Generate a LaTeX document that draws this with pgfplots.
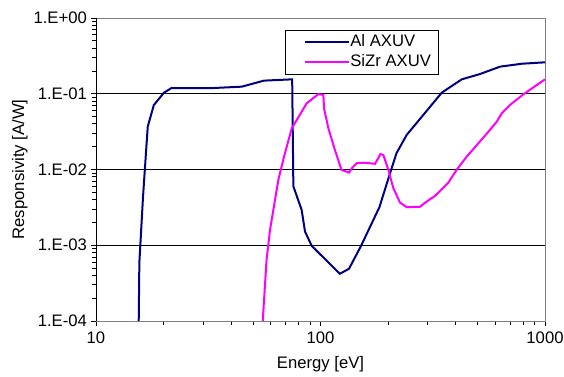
\documentclass[border=0pt]{standalone}
\usepackage{fontspec}
\setmainfont{Liberation Sans}
\usepackage{pgfplots}
\pgfplotsset{compat=1.18}
\definecolor{alblue}{RGB}{0,0,128}
\definecolor{sizr}{RGB}{255,0,255}
\begin{document}
\fontsize{12.5}{14}\selectfont
\begin{tikzpicture}
\begin{loglogaxis}[
  scale only axis,
  width=336.75pt, height=227.25pt,
  at={(0,0)}, anchor=south west,
  xmin=10, xmax=1000, ymin=1e-4, ymax=1,
  xtick={10,100,1000}, xticklabels={10,100,1000},
  ytick={1e-4,1e-3,1e-2,1e-1,1},
  yticklabels={1.E-04,1.E-03,1.E-02,1.E-01,1.E+00},
  minor xtick={}, minor ytick={},
  xtick pos=left, ytick pos=left,
  tick align=outside,
  major tick length=4pt,
  tick style={black, line width=0.6pt},
  axis line style={gray, line width=0.6pt},
  ymajorgrids, major grid style={black, line width=0.6pt},
  ticklabel style={font=\fontsize{12.5}{14}\selectfont},
  yticklabel style={xshift=1.5pt},
  xlabel={Energy [eV]}, ylabel={Responsivity [A/W]},
  label style={font=\fontsize{12.5}{14}\selectfont},
  xlabel style={yshift=-1pt},
  ylabel style={yshift=-4pt},
  legend style={at={(0.462,0.888)}, anchor=west, draw=none, fill=none,
    font=\fontsize{12.5}{14}\selectfont, inner xsep=0pt, inner ysep=0pt,
    row sep=0pt, nodes={inner xsep=0.5pt}},
  legend cell align=left,
  legend image code/.code={\draw[#1] (0pt,0cm) -- (33pt,0cm);},
]
\draw[black, line width=0.6pt, fill=white] (rel axis cs:0.421,0.960) rectangle (rel axis cs:0.762,0.815);
\addplot[alblue, line width=1.5pt] coordinates {
(15.5,1e-4) (15.6,5.9e-4) (16.2,4.4e-3) (17.0,0.0368) (18.1,0.071) (20.1,0.1035)
(21.7,0.119) (33.3,0.119) (44.6,0.124) (56,0.149) (74.8,0.155) (75.7,0.006)
(82.4,2.93e-3) (85.3,1.52e-3) (91.4,9.8e-4) (122,4.2e-4) (134,4.9e-4)
(151,9.6e-4) (183,3.18e-3) (204,8.9e-3) (218,0.0164) (242,0.0286) (287,0.0525)
(347,0.1035) (426,0.155) (513,0.182) (631,0.228) (788,0.249) (1000,0.26)
};
\addlegendentry{Al AXUV}
\addplot[sizr, line width=1.5pt] coordinates {
(55.3,1e-4) (57.5,6.4e-4) (59.6,1.6e-3) (64.9,7.3e-3) (68.8,0.0148) (74.5,0.035)
(86.8,0.0748) (97.8,0.099) (103,0.0965) (103.7,0.064) (108.4,0.035) (116,0.018)
(124,9.9e-3) (134,9.1e-3) (138,0.0104) (145,0.0121) (155,0.0123) (175,0.0119)
(185,0.016) (190.6,0.0155) (200.5,0.0099) (211,5.7e-3) (226,3.66e-3) (242,3.18e-3)
(277,3.22e-3) (297,3.77e-3) (324,4.5e-3) (371,6.7e-3) (404,9.9e-3) (448,0.0148)
(505,0.0222) (560,0.0316) (610,0.0429) (642,0.0553) (698,0.071) (800,0.098) (1000,0.155)
};
\addlegendentry{SiZr AXUV}
\draw[black, line width=0.6pt] (rel axis cs:0,1) -- (rel axis cs:0,0) -- (rel axis cs:1,0);
\end{loglogaxis}
\pgfresetboundingbox
\path (-72pt,-42pt) rectangle ++(423pt,282.75pt);
\end{tikzpicture}
\end{document}
